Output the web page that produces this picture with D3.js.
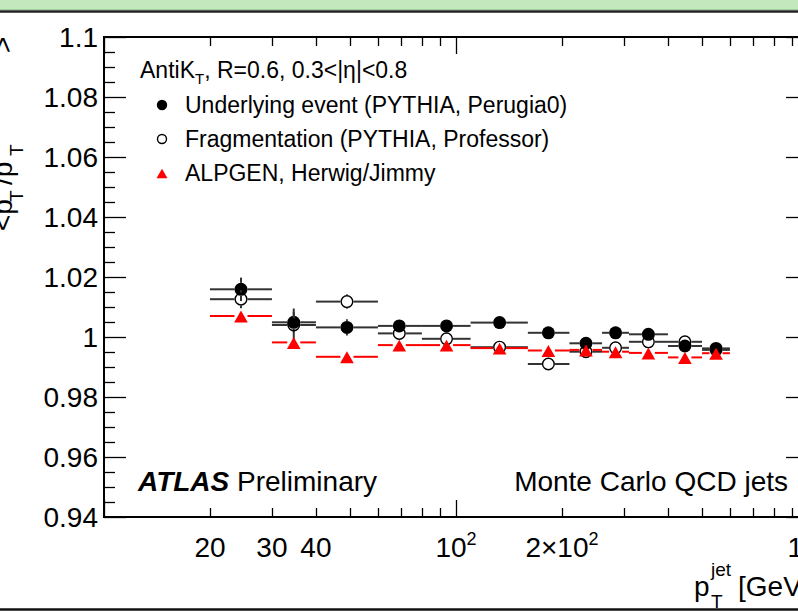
<!DOCTYPE html>
<html>
<head>
<meta charset="utf-8">
<script src="https://cdn.jsdelivr.net/npm/d3@7"></script>
<style>
  html, body { margin: 0; padding: 0; background: #fff; }
  svg { display: block; font-family: "Liberation Sans", Arial, Helvetica, sans-serif; }
</style>
</head>
<body>
<svg id="chart" width="798" height="613"></svg>
<script>
// bins in pT (GeV) and the point positions inside them
var binEdges = [20, 30, 40, 60, 80, 110, 160, 210, 260, 310, 400, 500, 600];
var binCenters = [24.5, 34.6, 49, 69, 94, 133, 183, 234, 284, 352, 447, 548];

// Underlying event (PYTHIA, Perugia0)
var ueVals = [1.0159, 1.0049, 1.0032, 1.0037, 1.0037, 1.0048, 1.0014, 0.9979, 1.0014, 1.0009, 0.9970, 0.9962];
var ueErrs = [0.0039, 0.0034, 0.0027, 0.0015, 0.0014, 0.0012, 0.0012, 0.0012, 0.0012, 0.0012, 0.0012, 0.0012];
// Fragmentation (PYTHIA, Professor)
var fragVals = [1.0126, 1.0040, 1.0118, 1.0012, 0.9994, 0.9966, 0.9910, 0.9951, 0.9964, 0.9984, 0.9984, 0.9957];
var fragErrs = [0.0030, 0.0055, 0.0024, 0.0015, 0.0014, 0.0012, 0.0012, 0.0012, 0.0012, 0.0012, 0.0012, 0.0012];
// ALPGEN, Herwig/Jimmy
var alpVals = [1.0070, 0.9982, 0.9934, 0.9973, 0.9973, 0.9963, 0.9955, 0.9957, 0.9951, 0.9947, 0.9932, 0.9946];
var alpErrs = [0.0015, 0.0015, 0.0015, 0.0012, 0.0012, 0.0012, 0.0010, 0.0010, 0.0010, 0.0010, 0.0010, 0.0010];

var yTickValues = [0.94, 0.96, 0.98, 1.0, 1.02, 1.04, 1.06, 1.08, 1.1];
var yTickLabels = ["0.94", "0.96", "0.98", "1", "1.02", "1.04", "1.06", "1.08", "1.1"];
var xLabelValues = [20, 30, 40, 100, 200, 1000];
var xLabelBase = ["20", "30", "40", "10", "2\u00d710", "10"];
var xLabelSup = ["", "", "", "2", "2", "3"];

var svg = d3.select("#chart");
var frame = { left: 104, right: 808, top: 37, bottom: 517 };

var x = d3.scaleLog().domain([10, 1000]).range([frame.left, frame.right]);
var y = d3.scaleLinear().domain([0.94, 1.1]).range([frame.bottom, frame.top]);

// window chrome seen at top and bottom
svg.append("rect").attr("x", 0).attr("y", 0).attr("width", 798).attr("height", 10).attr("fill", "#c3e8bd");
svg.append("line").attr("x1", 0).attr("x2", 798).attr("y1", 9.5).attr("y2", 9.5).attr("stroke", "#9fcf98").attr("stroke-width", 1);
svg.append("line").attr("x1", 0).attr("x2", 798).attr("y1", 11.5).attr("y2", 11.5).attr("stroke", "#222").attr("stroke-width", 2.5);
svg.append("line").attr("x1", 0).attr("x2", 798).attr("y1", 609.5).attr("y2", 609.5).attr("stroke", "#111").attr("stroke-width", 2.5);

// ticks
var ticks = svg.append("g").attr("stroke", "#000").attr("stroke-width", 1.3);
var yMinor = d3.range(0, 33).map(function(i) { return 0.94 + i * 0.005; });
yMinor.forEach(function(v, i) {
    var major = (i % 4 === 0);
    var yy = Math.round(y(v)) + 0.5;
    ticks.append("line").attr("x1", frame.left).attr("x2", frame.left + (major ? 22 : 11)).attr("y1", yy).attr("y2", yy);
    ticks.append("line").attr("x1", frame.right).attr("x2", frame.right - (major ? 22 : 10)).attr("y1", yy).attr("y2", yy);
});
var xMinor = [];
[10, 100].forEach(function(dec) {
    for (var k = 1; k <= 9; k++) xMinor.push(dec * k);
});
xMinor.push(1000);
xMinor.forEach(function(v) {
    var major = (v === 10 || v === 100 || v === 1000);
    var len = major ? 17 : 9;
    var xx = Math.round(x(v)) + 0.5;
    ticks.append("line").attr("x1", xx).attr("x2", xx).attr("y1", frame.bottom).attr("y2", frame.bottom - len);
    ticks.append("line").attr("x1", xx).attr("x2", xx).attr("y1", frame.top).attr("y2", frame.top + len);
});

// frame
svg.append("rect")
    .attr("x", frame.left).attr("y", frame.top)
    .attr("width", frame.right - frame.left).attr("height", frame.bottom - frame.top)
    .attr("fill", "none").attr("stroke", "#000").attr("stroke-width", 2);

// y tick labels
svg.append("g").selectAll("text")
    .data(yTickValues)
    .enter().append("text")
    .attr("x", frame.left - 6)
    .attr("y", function(d) { return y(d); })
    .attr("dy", "0.36em")
    .attr("text-anchor", "end")
    .attr("font-size", 28)
    .text(function(d, i) { return yTickLabels[i]; });

// x tick labels
var xl = svg.append("g").selectAll("text")
    .data(xLabelValues)
    .enter().append("text")
    .attr("x", function(d) { return x(d); })
    .attr("y", 557)
    .attr("text-anchor", "middle")
    .attr("font-size", 28);
xl.append("tspan").text(function(d, i) { return xLabelBase[i]; });
xl.append("tspan").attr("dy", -12).attr("font-size", 18).text(function(d, i) { return xLabelSup[i]; });

// x title
var xt = svg.append("g").attr("font-size", 28);
xt.append("text").attr("x", 694).attr("y", 596).text("p");
xt.append("text").attr("x", 711).attr("y", 576).attr("font-size", 19).text("jet");
xt.append("text").attr("x", 711).attr("y", 608).attr("font-size", 19).text("T");
xt.append("text").attr("x", 738).attr("y", 596).text("[GeV]");

// y title, rotated and cut by the left edge
var yt = svg.append("g").attr("transform", "translate(12,231) rotate(-90)").attr("font-size", 28);
yt.append("text").attr("x", 0).attr("y", 0).text("<p");
yt.append("text").attr("x", 29).attr("y", 11).attr("font-size", 19).text("T");
yt.append("text").attr("x", 46).attr("y", 0).text("/p");
yt.append("text").attr("x", 75).attr("y", 11).attr("font-size", 19).text("T");
yt.append("text").attr("x", 178).attr("y", 0).text(">");

// data
var plot = svg.append("g");
function drawSeries(vals, errs, color, marker) {
    var g = plot.append("g").attr("stroke", color).attr("stroke-width", 2);
    var r = 6.5;
    vals.forEach(function(v, i) {
        var cx = x(binCenters[i]), cy = y(v);
        var x0 = x(binEdges[i]), x1 = x(binEdges[i + 1]);
        g.append("line").attr("x1", x0).attr("x2", cx - r).attr("y1", cy).attr("y2", cy);
        g.append("line").attr("x1", cx + r).attr("x2", x1).attr("y1", cy).attr("y2", cy);
        var yTop = y(v + errs[i]), yBot = y(v - errs[i]);
        if (cy - yTop > r) {
            g.append("line").attr("x1", cx).attr("x2", cx).attr("y1", yTop).attr("y2", cy - r);
            g.append("line").attr("x1", cx).attr("x2", cx).attr("y1", cy + r).attr("y2", yBot);
        }
    });
    var m = plot.append("g");
    vals.forEach(function(v, i) {
        drawMarker(m, marker, x(binCenters[i]), y(v), r);
    });
}
function drawMarker(g, marker, cx, cy, r) {
    if (marker === "filled") {
        g.append("circle").attr("cx", cx).attr("cy", cy).attr("r", r).attr("fill", "#000");
    } else if (marker === "open") {
        g.append("circle").attr("cx", cx).attr("cy", cy).attr("r", r - 0.7)
            .attr("fill", "none").attr("stroke", "#000").attr("stroke-width", 1.4);
    } else {
        var s = r * 1.05;
        g.append("path")
            .attr("d", "M" + cx + "," + (cy - s * 0.8) + "L" + (cx + s) + "," + (cy + s * 0.95) + "L" + (cx - s) + "," + (cy + s * 0.95) + "Z")
            .attr("fill", "#ff0000");
    }
}
drawSeries(ueVals, ueErrs, "#333", "filled");
drawSeries(fragVals, fragErrs, "#333", "open");
drawSeries(alpVals, alpErrs, "#ff0000", "triangle");

// legend
var leg = svg.append("g");
var head = leg.append("text").attr("x", 140).attr("y", 78).attr("font-size", 23);
head.append("tspan").text("AntiK");
head.append("tspan").attr("dy", 6).attr("font-size", 15).text("T");
head.append("tspan").attr("dy", -6).text(", R=0.6, 0.3<|\u03b7|<0.8");

var legendNames = ["Underlying event (PYTHIA, Perugia0)", "Fragmentation (PYTHIA, Professor)", "ALPGEN, Herwig/Jimmy"];
var legendMarkers = ["filled", "open", "triangle"];
legendNames.forEach(function(name, i) {
    var base = 113 + i * 34;
    drawMarker(leg, legendMarkers[i], 162, base - 8, 5.2);
    leg.append("text").attr("x", 185).attr("y", base).attr("font-size", 23).text(name);
});

// labels
var atlas = svg.append("text").attr("x", 138).attr("y", 491).attr("font-size", 28);
atlas.append("tspan").attr("font-weight", "bold").attr("font-style", "italic").text("ATLAS");
atlas.append("tspan").text(" Preliminary");
svg.append("text").attr("x", 788).attr("y", 491).attr("text-anchor", "end").attr("font-size", 28).text("Monte Carlo QCD jets");
</script>
</body>
</html>
